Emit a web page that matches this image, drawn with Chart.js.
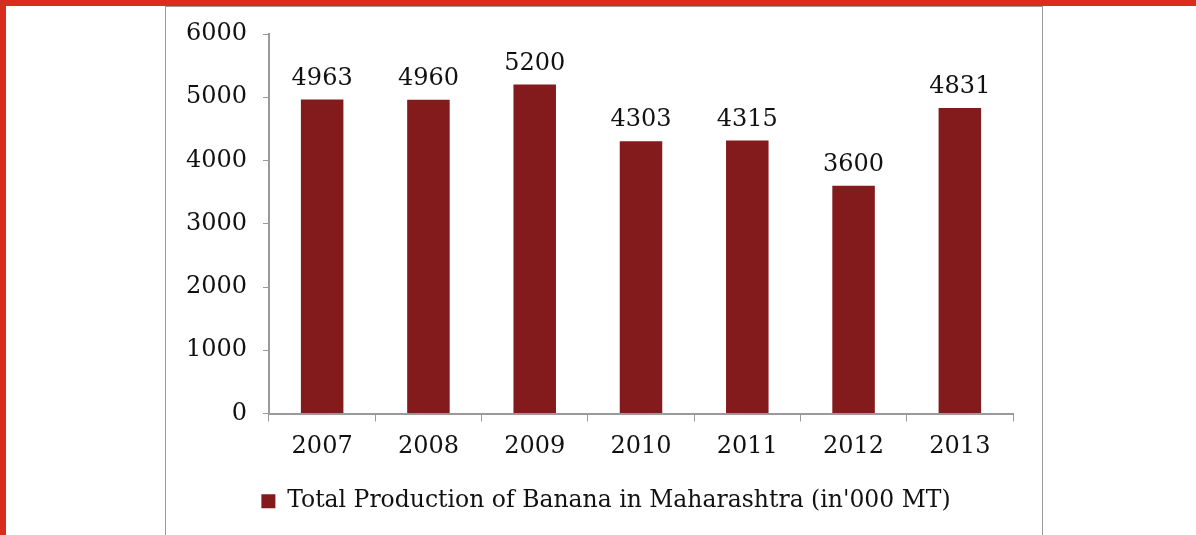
<!DOCTYPE html>
<html>
<head>
<meta charset="utf-8">
<script src="https://cdn.jsdelivr.net/npm/chart.js@4"></script>
<style>
  html, body { margin: 0; padding: 0; background: #fff; }
  #wrap { position: relative; width: 1196px; height: 535px; overflow: hidden; }
  .redTop { position: absolute; left: 0; top: 0; width: 1196px; height: 6px; background: #d92e1f; }
  .redLeft { position: absolute; left: 0; top: 0; width: 6px; height: 535px; background: #d92e1f; }
  .box { position: absolute; left: 165px; top: 6px; width: 876px; height: 540px; border: 1px solid #9a9a9a; border-bottom: none; }
  canvas { position: absolute; left: 0; top: 0; }
</style>
</head>
<body>
<div id="wrap">
  <div class="redTop"></div>
  <div class="redLeft"></div>
  <div class="box"></div>
  <canvas id="myChart" width="1196" height="535"></canvas>
</div>
<script>
var years = ['2007', '2008', '2009', '2010', '2011', '2012', '2013'];
var production = [4963, 4960, 5200, 4303, 4315, 3600, 4831];
var yTicks = [0, 1000, 2000, 3000, 4000, 5000, 6000];
var seriesName = "Total Production of Banana in Maharashtra (in'000 MT)";

var serif = "'DejaVu Serif', 'Liberation Serif', serif";

// draws the value above each bar
var barValues = {
    id: 'barValues',
    afterDatasetsDraw: function(chart) {
        var ctx = chart.ctx;
        var meta = chart.getDatasetMeta(0);
        ctx.save();
        ctx.font = '24px ' + serif;
        ctx.fillStyle = '#111';
        ctx.textAlign = 'center';
        ctx.textBaseline = 'alphabetic';
        meta.data.forEach(function(bar, i) {
            ctx.fillText(String(production[i]), bar.x, bar.y - 15);
        });
        ctx.restore();
    }
};

// nudge legend a little to the right, like the original
var legendShift = {
    id: 'legendShift',
    afterLayout: function(chart) {
        if (chart.legend) {
            chart.legend.left += 12;
            chart.legend.right += 12;
        }
    }
};

var chart1 = document.getElementById('myChart');
var myChart = new Chart(chart1, {
    type: 'bar',
    data: {
        labels: years,
        datasets: [{
            label: seriesName,
            data: production,
            backgroundColor: '#831a1b',
            borderWidth: 0,
            barPercentage: 0.4,
            categoryPercentage: 1
        }]
    },
    options: {
        responsive: false,
        animation: false,
        layout: {
            padding: { left: 175, top: 34, right: 183, bottom: 12 }
        },
        plugins: {
            tooltip: { enabled: false },
            legend: {
                position: 'bottom',
                labels: {
                    font: { family: serif, size: 23.5 },
                    color: '#111',
                    boxWidth: 14,
                    boxHeight: 14,
                    padding: 12
                }
            }
        },
        scales: {
            x: {
                afterFit: function(scale) { scale.height = 64; },
                grid: {
                    drawOnChartArea: false,
                    drawTicks: true,
                    tickLength: 8,
                    color: '#9a9a9a',
                    offset: true
                },
                border: { color: '#9a9a9a', width: 2 },
                ticks: {
                    font: { family: serif, size: 24 },
                    color: '#111',
                    padding: 11
                }
            },
            y: {
                min: 0,
                max: 6000,
                afterFit: function(scale) { scale.width = 94; },
                afterBuildTicks: function(scale) {
                    scale.ticks = yTicks.map(function(v) { return { value: v }; });
                },
                grid: {
                    drawOnChartArea: false,
                    drawTicks: true,
                    tickLength: 6,
                    color: '#9a9a9a'
                },
                border: { color: '#9a9a9a', width: 2 },
                ticks: {
                    font: { family: serif, size: 24 },
                    color: '#111',
                    padding: 16,
                    callback: function(v) { return String(v); }
                }
            }
        }
    },
    plugins: [barValues, legendShift]
});
</script>
</body>
</html>
